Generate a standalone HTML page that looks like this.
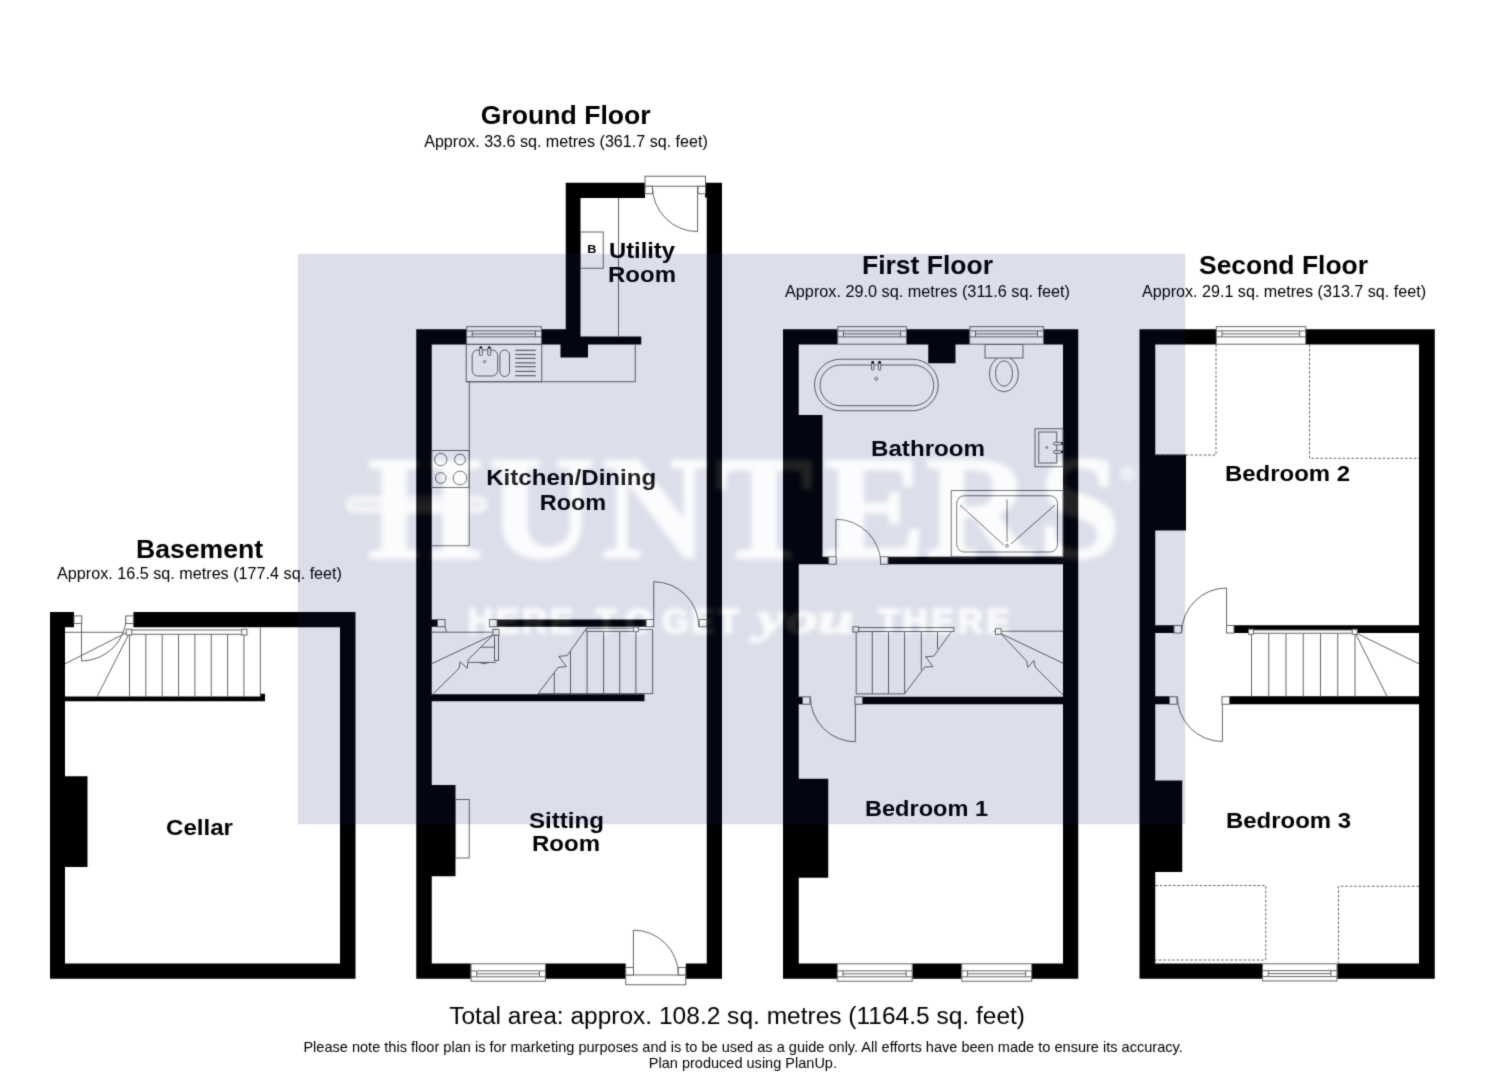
<!DOCTYPE html>
<html><head><meta charset="utf-8"><title>Floor plan</title>
<style>
html,body{margin:0;padding:0;background:#fff;}
body{width:1485px;height:1080px;overflow:hidden;font-family:"Liberation Sans",sans-serif;}
svg{display:block;}
svg text{font-family:"Liberation Sans",sans-serif;}
.lbl text{fill:#000;}
svg text.ser{font-family:"Liberation Serif",serif;}
.ln line,.ln path,.ln circle,.ln ellipse{stroke:#666;stroke-width:1;fill:none;}
</style></head><body>
<svg width="1485" height="1080" viewBox="0 0 1485 1080">
<defs>
<filter id="soft" filterUnits="userSpaceOnUse" x="0" y="0" width="1485" height="1080" color-interpolation-filters="sRGB"><feConvolveMatrix order="3" kernelMatrix="0.0192 0.1001 0.0192 0.1001 0.5228 0.1001 0.0192 0.1001 0.0192" divisor="1" edgeMode="duplicate" preserveAlpha="true"/></filter>
<filter id="wb" x="-5%" y="-20%" width="110%" height="140%"><feGaussianBlur stdDeviation="2.6"/></filter>
<filter id="wb2" x="-5%" y="-30%" width="110%" height="160%"><feGaussianBlur stdDeviation="2.2"/></filter>
<filter id="eb" x="-2%" y="-2%" width="104%" height="104%"><feGaussianBlur stdDeviation="0.5"/></filter>
<g id="wmA" stroke-width="2.4" stroke-linejoin="round">
<g font-weight="bold" font-size="146"><text class="ser" x="368" y="556.5" letter-spacing="7.7">HUNT</text><text class="ser" x="823.7" y="556.5" textLength="102" lengthAdjust="spacingAndGlyphs">E</text><text class="ser" x="925.7" y="556.5" letter-spacing="7.7">RS</text></g>
<rect x="348" y="498.5" width="137.5" height="12" rx="6" fill-opacity="0.45" stroke-width="3.4"/>
<text x="1120.5" y="480" font-size="19" stroke-width="0.6" style="font-family:'Liberation Sans',sans-serif">&#174;</text>
</g>
<g id="wmB" stroke-width="1.6" stroke-linejoin="round" font-weight="bold" font-size="35">
<text x="468" y="632.5" textLength="105" lengthAdjust="spacing">HERE</text>
<text x="595.5" y="632.5" textLength="57" lengthAdjust="spacing">TO</text>
<text x="662" y="632.5" textLength="77" lengthAdjust="spacing">GET</text>
<text x="757" y="632.5" font-style="italic" font-size="44" textLength="97" lengthAdjust="spacingAndGlyphs" style="font-family:'Liberation Serif',serif">you</text>
<text x="878" y="632.5" textLength="131.5" lengthAdjust="spacing">THERE</text>
</g>
<mask id="wm" maskUnits="userSpaceOnUse" x="280" y="240" width="920" height="600">
<rect x="297.8" y="253.8" width="887.4" height="570.4" fill="#fff" filter="url(#eb)"/>
<use href="#wmA" fill="#000" stroke="#000" filter="url(#wb)" opacity="0.88"/>
<use href="#wmB" fill="#000" stroke="#000" filter="url(#wb2)" opacity="0.85"/>
</mask>
</defs>
<g filter="url(#soft)">
<rect x="0" y="0" width="1485" height="1080" fill="#fff"/>

<path fill="#000" fill-rule="nonzero" d="M50 612H65V978.75H50ZM50 963.5H355.5V978.75H50ZM340 612H355.5V978.75H340ZM50 612H74V627.2H50ZM133.4 612H355.5V627.2H133.4ZM65 696.6H265V701.3H65ZM260 693.75H265V701.3H260ZM65 776.25H87.5V867H65ZM416.25 329.25H431.75V978.75H416.25ZM416.25 329.25H466.25V344.5H416.25ZM541.75 329.25H580.5V344.5H541.75ZM565.75 182.75H580.5V344.5H565.75ZM565.75 182.75H645V198H565.75ZM706.75 182.75H722V978.75H706.75ZM705 182.75H707V197.5H705ZM580.5 336.5H641.25V344.5H580.5ZM560.5 344.5H588V357.5H560.5ZM431.75 619.5H437.5V626.75H431.75ZM497 619.5H646.25V626.75H497ZM431.75 694.25H644.5V701.25H431.75ZM431.75 785H455.5V876.25H431.75ZM416.25 963.5H470.75V978.75H416.25ZM545.75 963.5H625.75V978.75H545.75ZM685.75 963.5H722V978.75H685.75ZM783 329.25H798.75V978.75H783ZM1063 329.25H1078.25V978.75H1063ZM783 329.25H837.5V344.5H783ZM906.75 329.25H969.5V344.5H906.75ZM1043.75 329.25H1078.25V344.5H1043.75ZM928.25 344.5H955.5V363.25H928.25ZM798.75 415H822.5V564.25H798.75ZM822.5 556.75H828.75V564.25H822.5ZM888 556.75H1063V564.25H888ZM798.75 696.75H802.5V704.25H798.75ZM862.5 696.75H1063V704.25H862.5ZM798.75 778.75H828.25V877.75H798.75ZM783 963.5H837V978.75H783ZM912.5 963.5H961.5V978.75H912.5ZM1032 963.5H1078.25V978.75H1032ZM1139.5 329.25H1155.25V978.75H1139.5ZM1419 329.25H1434.75V978.75H1419ZM1139.5 329.25H1216V344.5H1139.5ZM1306 329.25H1434.75V344.5H1306ZM1155.25 454.5H1186V530.5H1155.25ZM1155.25 625.3H1174V633H1155.25ZM1234 625.3H1419V633H1234ZM1155.25 696.25H1169.5V704.25H1155.25ZM1229.5 696.25H1419V704.25H1229.5ZM1155.25 780.5H1182.25V872H1155.25ZM1139.5 963.5H1262.25V978.75H1139.5ZM1337.25 963.5H1434.75V978.75H1337.25Z"/>
<g class="ln" shape-rendering="auto">
<line x1="129.5" y1="634" x2="129.5" y2="696.5" />
<line x1="145.85" y1="634" x2="145.85" y2="696.5" />
<line x1="162.2" y1="634" x2="162.2" y2="696.5" />
<line x1="178.55" y1="634" x2="178.55" y2="696.5" />
<line x1="194.9" y1="634" x2="194.9" y2="696.5" />
<line x1="211.25" y1="634" x2="211.25" y2="696.5" />
<line x1="227.6" y1="634" x2="227.6" y2="696.5" />
<line x1="243.95" y1="634" x2="243.95" y2="696.5" />
<line x1="260.3" y1="627.5" x2="260.3" y2="696.5" />
<line x1="65" y1="632.3" x2="124" y2="632.3" />
<line x1="126.8" y1="632.6" x2="65" y2="663.8" />
<line x1="129" y1="633.7" x2="97.1" y2="696.7" />
<rect x="131" y="630" width="111.5" height="4.25" fill="#fff" stroke="#666" stroke-width="1" />
<rect x="126.25" y="629.25" width="5.5" height="5.75" fill="#fff" stroke="#666" stroke-width="1" />
<rect x="241.75" y="629.25" width="5.25" height="5.75" fill="#fff" stroke="#666" stroke-width="1" />
<line x1="81.5" y1="616" x2="81.5" y2="661" />
<path d="M81.5 661 A45 45 0 0 0 126.3 616" />
<rect x="74" y="615.9" width="7.75" height="7.6" fill="#fff" stroke="#666" stroke-width="1" />
<rect x="125.8" y="615.9" width="7.6" height="7.6" fill="#fff" stroke="#666" stroke-width="1" />
<line x1="618.5" y1="198" x2="618.5" y2="336.5" />
<rect x="580.5" y="232" width="22.75" height="36.25" fill="none" stroke="#666" stroke-width="1" />
<rect x="645" y="176.25" width="60.5" height="10" fill="#fff" stroke="#666" stroke-width="1" />
<line x1="697.6" y1="186.4" x2="697.6" y2="231.6" />
<path d="M697.6 231.6 A45.2 45.2 0 0 1 652.4 186.4" />
<rect x="645" y="186.25" width="7.5" height="7.5" fill="#fff" stroke="#666" stroke-width="1" />
<rect x="698" y="186.25" width="7.5" height="7.5" fill="#fff" stroke="#666" stroke-width="1" />
<rect x="466.55" y="326.65" width="74.9" height="17.55" fill="#fff" stroke="#666" stroke-width="1" />
<line x1="466.25" y1="330.9" x2="541.75" y2="330.9" />
<line x1="466.25" y1="336.85" x2="541.75" y2="336.85" />
<line x1="472.25" y1="330.9" x2="472.25" y2="336.85" />
<line x1="535.45" y1="330.9" x2="535.45" y2="336.85" />
<line x1="472.25" y1="333.9" x2="535.45" y2="333.9" />
<path d="M466.25 381.75 H635.25 V344.5" />
<rect x="466.25" y="344.5" width="75.5" height="37.25" fill="none" stroke="#666" stroke-width="1" />
<path d="M469.25 381.75 V545.75 H431.75" />
<rect x="472.2" y="350" width="25.5" height="26" rx="5.5" ry="5.5" style="stroke:#666;fill:none"/>
<rect x="499.9" y="350" width="9.6" height="26.5" rx="4.8" ry="4.8" style="stroke:#666;fill:none"/>
<circle cx="484.6" cy="361.6" r="1.1"/>
<rect x="479.4" y="347.6" width="2.9" height="7.8" rx="0.8" style="stroke:#666;fill:#fff"/>
<circle cx="480.84999999999997" cy="347.4" r="1.2" style="fill:#000;stroke:none"/>
<rect x="487.8" y="347.6" width="2.9" height="7.8" rx="0.8" style="stroke:#666;fill:#fff"/>
<circle cx="489.25" cy="347.4" r="1.2" style="fill:#000;stroke:none"/>
<line x1="515.3" y1="350.3" x2="535.7" y2="350.3" style="stroke-width:1.2"/>
<line x1="515.3" y1="354.5" x2="535.7" y2="354.5" style="stroke-width:1.2"/>
<line x1="515.3" y1="358.4" x2="535.7" y2="358.4" style="stroke-width:1.2"/>
<line x1="515.3" y1="362.9" x2="535.7" y2="362.9" style="stroke-width:1.2"/>
<line x1="515.3" y1="366.7" x2="535.7" y2="366.7" style="stroke-width:1.2"/>
<line x1="515.3" y1="371.4" x2="535.7" y2="371.4" style="stroke-width:1.2"/>
<line x1="515.3" y1="375.7" x2="535.7" y2="375.7" style="stroke-width:1.2"/>
<rect x="431.75" y="450.5" width="37.5" height="37" fill="none" stroke="#666" stroke-width="1" />
<circle cx="440.75" cy="459.5" r="6.2"/><circle cx="460" cy="459.5" r="5.4"/><circle cx="440.75" cy="478" r="5.4"/><circle cx="460" cy="478" r="6.9"/>
<line x1="653.75" y1="581.75" x2="653.75" y2="619.5" />
<path d="M653.75 581.75 A45 45 0 0 1 698.75 626.75" />
<rect x="437.5" y="619.5" width="7.5" height="7.25" fill="#fff" stroke="#666" stroke-width="1" />
<rect x="489.5" y="619.5" width="7.5" height="7.25" fill="#fff" stroke="#666" stroke-width="1" />
<rect x="646.25" y="619.5" width="7.5" height="7.25" fill="#fff" stroke="#666" stroke-width="1" />
<rect x="699.25" y="619.5" width="7.5" height="7.25" fill="#fff" stroke="#666" stroke-width="1" />
<path d="M445 626.75 L446.5 632.2 M431.75 632.2 H492.9" />
<line x1="493.5" y1="634.6" x2="431.75" y2="663.7" />
<path d="M493.5 634.6 L468.3 659.5 L467.2 668.3 L460.2 661.8 L459 668.5 L431.75 695.2" />
<line x1="480.8" y1="647.2" x2="494.5" y2="647.2" />
<path d="M468.6 662.4 H496 M478.5 662.4 Q484 665 489.5 662.4" />
<rect x="494.5" y="635.1" width="4" height="25.4" fill="#fff" stroke="#666" stroke-width="1" />
<rect x="492.9" y="629.5" width="6.1" height="5.6" fill="#fff" stroke="#666" stroke-width="1" />
<line x1="554.3" y1="672.6" x2="554.3" y2="693.6" />
<line x1="570.5" y1="651.6" x2="570.5" y2="693.6" />
<line x1="587.1" y1="628.2" x2="587.1" y2="693.6" />
<line x1="603.6" y1="631.4" x2="603.6" y2="693.6" />
<line x1="619.7" y1="631.4" x2="619.7" y2="693.6" />
<line x1="635.9" y1="631.4" x2="635.9" y2="693.6" />
<line x1="652.6" y1="629.8" x2="652.6" y2="693.6" />
<path d="M586.6 628.2 L567.2 655.6 L558.8 656.4 L566.4 666.6 L558.3 667.3 L538.1 693.6 H652.6" />
<line x1="638.3" y1="629.6" x2="652.6" y2="629.6" />
<rect x="586.6" y="628.2" width="46.9" height="3.2" fill="#fff" stroke="#666" stroke-width="1" />
<rect x="633.5" y="627" width="4.8" height="4.7" fill="#fff" stroke="#666" stroke-width="1" />
<rect x="455.5" y="799.5" width="13.75" height="58.5" fill="none" stroke="#666" stroke-width="1" />
<rect x="471.05" y="963.8" width="74.4" height="17.4" fill="#fff" stroke="#666" stroke-width="1" />
<line x1="470.75" y1="976.85" x2="545.75" y2="976.85" />
<line x1="470.75" y1="970.9" x2="545.75" y2="970.9" />
<line x1="476.75" y1="976.85" x2="476.75" y2="970.9" />
<line x1="539.45" y1="976.85" x2="539.45" y2="970.9" />
<line x1="476.75" y1="973.85" x2="539.45" y2="973.85" />
<rect x="625.75" y="975" width="60" height="9.75" fill="#fff" stroke="#666" stroke-width="1" />
<line x1="633.4" y1="930.1" x2="633.4" y2="975.2" />
<path d="M633.4 930.1 A45.1 45.1 0 0 1 678.5 975.2" />
<rect x="625.75" y="967.5" width="7.75" height="7.5" fill="#fff" stroke="#666" stroke-width="1" />
<rect x="678.25" y="967.5" width="7.5" height="7.5" fill="#fff" stroke="#666" stroke-width="1" />
<rect x="837.8" y="326.65" width="68.65" height="17.55" fill="#fff" stroke="#666" stroke-width="1" />
<line x1="837.5" y1="330.9" x2="906.75" y2="330.9" />
<line x1="837.5" y1="336.85" x2="906.75" y2="336.85" />
<line x1="843.5" y1="330.9" x2="843.5" y2="336.85" />
<line x1="900.45" y1="330.9" x2="900.45" y2="336.85" />
<line x1="843.5" y1="333.9" x2="900.45" y2="333.9" />
<rect x="969.8" y="326.65" width="73.65" height="17.55" fill="#fff" stroke="#666" stroke-width="1" />
<line x1="969.5" y1="330.9" x2="1043.75" y2="330.9" />
<line x1="969.5" y1="336.85" x2="1043.75" y2="336.85" />
<line x1="975.5" y1="330.9" x2="975.5" y2="336.85" />
<line x1="1037.45" y1="330.9" x2="1037.45" y2="336.85" />
<line x1="975.5" y1="333.9" x2="1037.45" y2="333.9" />
<rect x="814.5" y="359.25" width="123.75" height="51.5" rx="25.75" ry="25.75" style="stroke:#666;fill:none"/>
<rect x="820" y="365" width="113.75" height="40.75" rx="20.4" ry="20.4" style="stroke:#666;fill:none"/>
<rect x="871.5" y="362.6" width="2.4" height="7.6" rx="0.9" style="stroke:#666;fill:#fff"/>
<circle cx="872.7" cy="362.4" r="1.35" style="fill:#000;stroke:none"/>
<rect x="878.4" y="362.6" width="2.4" height="7.6" rx="0.9" style="stroke:#666;fill:#fff"/>
<circle cx="879.6" cy="362.4" r="1.35" style="fill:#000;stroke:none"/>
<circle cx="876.25" cy="378.75" r="1.5"/>
<ellipse cx="1003.9" cy="374" rx="14.4" ry="17.75"/>
<ellipse cx="1004" cy="373.5" rx="8.5" ry="12.75"/>
<rect x="985" y="344.5" width="38" height="13.5" fill="#fff" stroke="#666" stroke-width="1" />
<rect x="1035" y="428.75" width="28" height="38" fill="none" stroke="#666" stroke-width="1" />
<rect x="1038.75" y="432" width="18" height="31" fill="none" stroke="#666" stroke-width="1" />
<circle cx="1046.75" cy="447.5" r="0.9"/>
<rect x="1053.6" y="442.3" width="8.2" height="2.6" rx="0.8" style="stroke:#666;fill:#fff"/>
<circle cx="1062" cy="443.6" r="1.1" style="fill:#000;stroke:none"/>
<rect x="1053.6" y="450.6" width="8.2" height="2.6" rx="0.8" style="stroke:#666;fill:#fff"/>
<circle cx="1062" cy="451.90000000000003" r="1.1" style="fill:#000;stroke:none"/>
<rect x="951.25" y="490.5" width="111.75" height="66.25" fill="none" stroke="#666" stroke-width="1" />
<rect x="956.75" y="495.75" width="100.75" height="56.25" rx="7.5" ry="7.5" style="stroke:#666;fill:none"/>
<line x1="960" y1="505" x2="1003.75" y2="545" />
<line x1="1007" y1="499.5" x2="1007" y2="541.5" />
<line x1="1055" y1="505" x2="1011" y2="544" />
<circle cx="1007" cy="545.75" r="1.4"/>
<line x1="835.9" y1="519.25" x2="835.9" y2="556.75" />
<path d="M835.9 519.25 A45 45 0 0 1 880.9 564.25" />
<rect x="828.75" y="556.75" width="7.5" height="7.5" fill="#fff" stroke="#666" stroke-width="1" />
<rect x="880.5" y="556.75" width="7.5" height="7.5" fill="#fff" stroke="#666" stroke-width="1" />
<line x1="856.2" y1="631.5" x2="856.2" y2="693.9" />
<line x1="872.3" y1="631.5" x2="872.3" y2="693.9" />
<line x1="888.5" y1="631.5" x2="888.5" y2="693.9" />
<line x1="904.6" y1="631.5" x2="904.6" y2="693.9" />
<line x1="921.3" y1="631.5" x2="921.3" y2="670" />
<line x1="937.5" y1="631.5" x2="937.5" y2="649" />
<path d="M951.5 631.5 L933.7 656.2 L925.7 656.7 L932.9 666.7 L924.8 667 L904.6 693.9 H856.2" />
<rect x="858.6" y="627.6" width="95.3" height="3.9" fill="#fff" stroke="#666" stroke-width="1" />
<rect x="852.9" y="626.8" width="5.7" height="5.2" fill="#fff" stroke="#666" stroke-width="1" />
<line x1="993.5" y1="631.2" x2="1063" y2="631.2" />
<line x1="1000.8" y1="633.6" x2="1063" y2="663.2" />
<path d="M1000.8 633.6 L1026.7 661.1 L1027.9 667.5 L1033.9 660.3 L1035.1 667 L1063 695" />
<rect x="995.5" y="628.7" width="5.6" height="5.7" fill="#fff" stroke="#666" stroke-width="1" />
<line x1="855.4" y1="704.25" x2="855.4" y2="741.75" />
<path d="M855.4 741.75 A45 45 0 0 1 810.4 696.75" />
<rect x="802.5" y="696.75" width="7.5" height="7.5" fill="#fff" stroke="#666" stroke-width="1" />
<rect x="855" y="696.75" width="7.5" height="7.5" fill="#fff" stroke="#666" stroke-width="1" />
<rect x="837.3" y="963.8" width="74.9" height="17.4" fill="#fff" stroke="#666" stroke-width="1" />
<line x1="837" y1="976.85" x2="912.5" y2="976.85" />
<line x1="837" y1="970.9" x2="912.5" y2="970.9" />
<line x1="843" y1="976.85" x2="843" y2="970.9" />
<line x1="906.2" y1="976.85" x2="906.2" y2="970.9" />
<line x1="843" y1="973.85" x2="906.2" y2="973.85" />
<rect x="961.8" y="963.8" width="69.9" height="17.4" fill="#fff" stroke="#666" stroke-width="1" />
<line x1="961.5" y1="976.85" x2="1032" y2="976.85" />
<line x1="961.5" y1="970.9" x2="1032" y2="970.9" />
<line x1="967.5" y1="976.85" x2="967.5" y2="970.9" />
<line x1="1025.7" y1="976.85" x2="1025.7" y2="970.9" />
<line x1="967.5" y1="973.85" x2="1025.7" y2="973.85" />
<rect x="1216.3" y="326.65" width="89.4" height="17.55" fill="#fff" stroke="#666" stroke-width="1" />
<line x1="1216" y1="330.9" x2="1306" y2="330.9" />
<line x1="1216" y1="336.85" x2="1306" y2="336.85" />
<line x1="1222" y1="330.9" x2="1222" y2="336.85" />
<line x1="1299.7" y1="330.9" x2="1299.7" y2="336.85" />
<line x1="1222" y1="333.9" x2="1299.7" y2="333.9" />
<path d="M1216 344.5 V455 H1155.25" stroke-dasharray="2.6 1.85"/>
<path d="M1309.5 344.5 V458.25 H1419" stroke-dasharray="2.6 1.85"/>
<line x1="1226.6" y1="588" x2="1226.6" y2="625.5" />
<path d="M1226.6 588 A45 45 0 0 0 1181.6 633" />
<rect x="1174" y="625.5" width="7.5" height="7.5" fill="#fff" stroke="#666" stroke-width="1" />
<rect x="1226.5" y="625.5" width="7.5" height="7.5" fill="#fff" stroke="#666" stroke-width="1" />
<line x1="1251.5" y1="633.25" x2="1251.5" y2="696.25" />
<line x1="1268.75" y1="633.25" x2="1268.75" y2="696.25" />
<line x1="1286" y1="633.25" x2="1286" y2="696.25" />
<line x1="1303.25" y1="633.25" x2="1303.25" y2="696.25" />
<line x1="1320.5" y1="633.25" x2="1320.5" y2="696.25" />
<line x1="1337.75" y1="633.25" x2="1337.75" y2="696.25" />
<line x1="1355" y1="633.25" x2="1355" y2="696.25" />
<line x1="1355" y1="632.5" x2="1419" y2="663.75" />
<line x1="1355" y1="632.5" x2="1387" y2="696.25" />
<rect x="1253.5" y="630" width="100.5" height="3.25" fill="#fff" stroke="#666" stroke-width="1" />
<rect x="1248.5" y="629.25" width="5" height="5" fill="#fff" stroke="#666" stroke-width="1" />
<rect x="1352.25" y="629.25" width="5" height="5" fill="#fff" stroke="#666" stroke-width="1" />
<line x1="1222.4" y1="704.25" x2="1222.4" y2="741.5" />
<path d="M1222.4 741.5 A45 45 0 0 1 1177.4 696.5" />
<rect x="1169.5" y="696.75" width="7.5" height="7.5" fill="#fff" stroke="#666" stroke-width="1" />
<rect x="1222" y="696.75" width="7.5" height="7.5" fill="#fff" stroke="#666" stroke-width="1" />
<path d="M1155.25 885.5 H1265.75 V960 H1155.25" stroke-dasharray="2.6 1.85"/>
<path d="M1419 886.25 H1338.5 V963.5" stroke-dasharray="2.6 1.85"/>
<rect x="1262.55" y="963.8" width="74.4" height="17.15" fill="#fff" stroke="#666" stroke-width="1" />
<line x1="1262.25" y1="976.6" x2="1337.25" y2="976.6" />
<line x1="1262.25" y1="970.65" x2="1337.25" y2="970.65" />
<line x1="1268.25" y1="976.6" x2="1268.25" y2="970.65" />
<line x1="1330.95" y1="976.6" x2="1330.95" y2="970.65" />
<line x1="1268.25" y1="973.6" x2="1330.95" y2="973.6" />
</g>
<g class="lbl" style="opacity:0.999">
<text x="136" y="558" font-size="25.6" font-weight="bold" textLength="127" lengthAdjust="spacingAndGlyphs" >Basement</text>
<text x="57" y="579.3" font-size="15.9" textLength="285" lengthAdjust="spacingAndGlyphs" >Approx. 16.5 sq. metres (177.4 sq. feet)</text>
<text x="480.8" y="124.2" font-size="25.6" font-weight="bold" textLength="169.8" lengthAdjust="spacingAndGlyphs" >Ground Floor</text>
<text x="424.2" y="146.8" font-size="15.9" textLength="283.6" lengthAdjust="spacingAndGlyphs" >Approx. 33.6 sq. metres (361.7 sq. feet)</text>
<text x="862" y="274.2" font-size="25.6" font-weight="bold" textLength="131" lengthAdjust="spacingAndGlyphs" >First Floor</text>
<text x="785" y="296.8" font-size="15.9" textLength="285" lengthAdjust="spacingAndGlyphs" >Approx. 29.0 sq. metres (311.6 sq. feet)</text>
<text x="1199" y="274.2" font-size="25.6" font-weight="bold" textLength="169" lengthAdjust="spacingAndGlyphs" >Second Floor</text>
<text x="1142" y="296.8" font-size="15.9" textLength="284" lengthAdjust="spacingAndGlyphs" >Approx. 29.1 sq. metres (313.7 sq. feet)</text>
<text x="166" y="834.5" font-size="22.7" font-weight="bold" textLength="67" lengthAdjust="spacingAndGlyphs" >Cellar</text>
<text x="609" y="258" font-size="22.7" font-weight="bold" textLength="66" lengthAdjust="spacingAndGlyphs" >Utility</text>
<text x="608" y="282" font-size="22.7" font-weight="bold" textLength="68" lengthAdjust="spacingAndGlyphs" >Room</text>
<text x="486.2" y="485.2" font-size="22.7" font-weight="bold" textLength="170" lengthAdjust="spacingAndGlyphs" >Kitchen/Dining</text>
<text x="539.8" y="510" font-size="22.7" font-weight="bold" textLength="66.4" lengthAdjust="spacingAndGlyphs" >Room</text>
<text x="529" y="828" font-size="22.7" font-weight="bold" textLength="75" lengthAdjust="spacingAndGlyphs" >Sitting</text>
<text x="532" y="851.25" font-size="22.7" font-weight="bold" textLength="68" lengthAdjust="spacingAndGlyphs" >Room</text>
<text x="871" y="456.25" font-size="22.7" font-weight="bold" textLength="114" lengthAdjust="spacingAndGlyphs" >Bathroom</text>
<text x="865" y="815.75" font-size="22.7" font-weight="bold" textLength="123" lengthAdjust="spacingAndGlyphs" >Bedroom 1</text>
<text x="1225" y="481.25" font-size="22.7" font-weight="bold" textLength="125" lengthAdjust="spacingAndGlyphs" >Bedroom 2</text>
<text x="1226" y="827.5" font-size="22.7" font-weight="bold" textLength="125" lengthAdjust="spacingAndGlyphs" >Bedroom 3</text>
<text x="587.2" y="253.1" font-size="11.4" font-weight="bold" textLength="9.2" lengthAdjust="spacingAndGlyphs" >B</text>
<text x="449.2" y="1023.6" font-size="23.5" textLength="575.8" lengthAdjust="spacingAndGlyphs" >Total area: approx. 108.2 sq. metres (1164.5 sq. feet)</text>
<text x="303.4" y="1051.6" font-size="14.8" textLength="879.4" lengthAdjust="spacingAndGlyphs" >Please note this floor plan is for marketing purposes and is to be used as a guide only. All efforts have been made to ensure its accuracy.</text>
<text x="648.8" y="1068.3" font-size="14.8" textLength="188.2" lengthAdjust="spacingAndGlyphs" >Plan produced using PlanUp.</text>
</g>
<rect x="280" y="240" width="920" height="600" fill="rgb(22,42,115)" fill-opacity="0.15" mask="url(#wm)"/>
<g opacity="0.13"><use href="#wmA" fill="#fff" stroke="#fff" filter="url(#wb)"/><use href="#wmB" fill="#fff" stroke="#fff" filter="url(#wb2)"/></g>
</g>
</svg>
</body></html>
